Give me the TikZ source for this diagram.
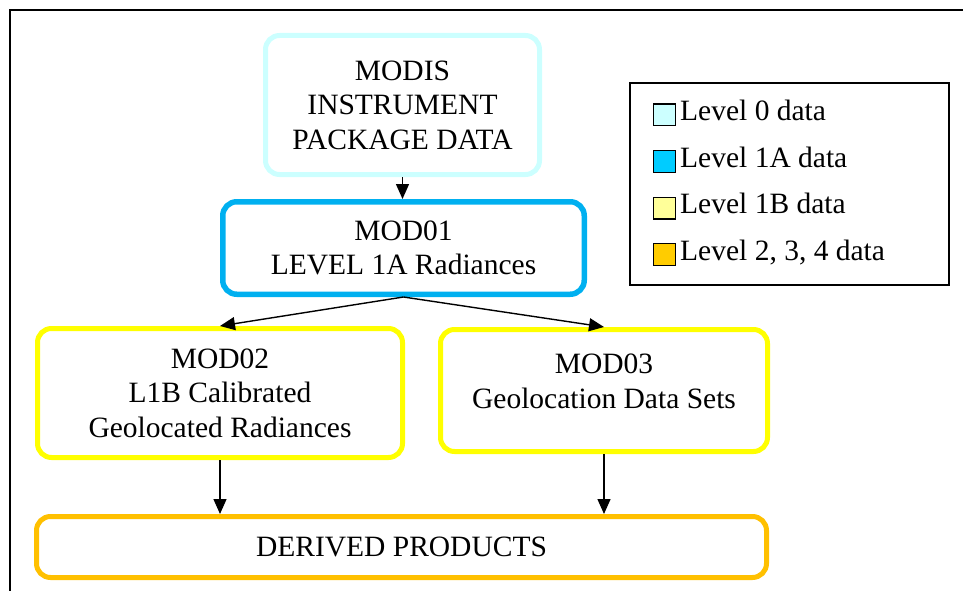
\documentclass[tikz,border=0pt]{standalone}
\usepackage{fontspec}
\setmainfont{Liberation Serif}
\usetikzlibrary{arrows.meta}
\definecolor{lvlzero}{HTML}{CCFFFF}
\definecolor{lvlonea}{HTML}{00B0F0}
\definecolor{lvloneb}{HTML}{FFFF00}
\definecolor{lvltwo}{HTML}{FFC000}
\definecolor{keyzero}{HTML}{CCFFFF}
\definecolor{keyonea}{HTML}{00CCFF}
\definecolor{keyoneb}{HTML}{FFFF99}
\definecolor{keytwo}{HTML}{FFCC00}

\begin{document}
\begin{tikzpicture}[x=1pt,y=-1pt,
  every node/.style={font=\fontsize{29.5}{34.5}\selectfont, inner sep=0pt},
  prodbox/.style={draw, rounded corners=14pt, align=center, line width=5pt},
  keybox/.style={draw, line width=1.2pt, minimum size=21.8pt},
  flow/.style={-{Triangle[length=15pt,width=13pt]}, line width=1.4pt}]
\useasboundingbox (0,0) rectangle (963,591);
\draw[line width=2pt] (10,591) -- (10,10) -- (963,10);

\node[prodbox, draw=lvlzero, minimum width=274pt, minimum height=139pt] (modis) at (402.5,105) {MODIS\\INSTRUMENT\\PACKAGE DATA};
\node[prodbox, draw=lvlonea, line width=5.5pt, minimum width=361.5pt, minimum height=92.5pt] (mod01) at (403.5,248) {MOD01\\LEVEL 1A Radiances};
\node[prodbox, draw=lvloneb, minimum width=365pt, minimum height=129pt] (mod02) at (220,393) {MOD02\\L1B Calibrated\\Geolocated Radiances};
\node[prodbox, draw=lvloneb, minimum width=327pt, minimum height=122pt, text depth=19pt] (mod03) at (604,390.5) {MOD03\\Geolocation Data Sets};
\node[prodbox, draw=lvltwo, minimum width=730pt, minimum height=61pt] (derived) at (401.5,547) {DERIVED PRODUCTS};

\draw[flow] (modis.south) -- (modis.south |- mod01.north);
\draw[flow] (mod01.south) -- (mod02.north);
\draw[flow] (mod01.south) -- (mod03.north);
\draw[flow] (mod02.south) -- (mod02.south |- derived.north);
\draw[flow] (mod03.south) -- (mod03.south |- derived.north);

\node[draw, line width=2pt, minimum width=319pt, minimum height=202pt] (legend) at (789.5,184) {};
\foreach \col/\lbl/\y [count=\i] in {keyzero/Level 0 data/115, keyonea/Level 1A data/161.5,
    keyoneb/Level 1B data/208, keytwo/{Level 2, 3, 4 data}/254.5} {
  \node[keybox, fill=\col] (key\i) at (664.5,\y) {};
  \node[anchor=base west] (keytext\i) at (680,\y+5.5) {\lbl};
}
\end{tikzpicture}
\end{document}
